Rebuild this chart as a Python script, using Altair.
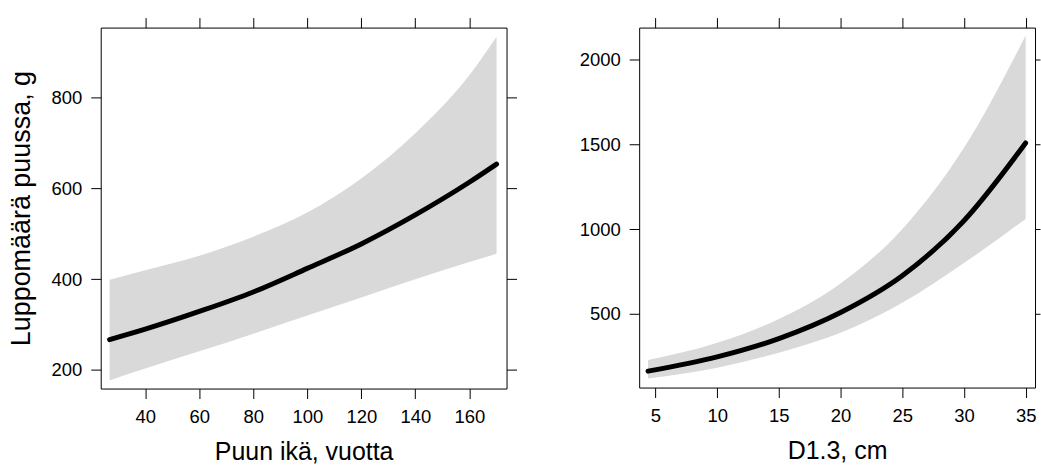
import altair as alt
import pandas as pd

# Left panel: tree age vs. lichen amount
age = [26.8, 40, 60, 80, 100, 120, 140, 160, 170.1]
age_fit = [267, 290, 329, 372, 424, 478, 542, 614, 654]
age_lo = [177, 203, 241, 280, 320, 360, 400, 438, 456]
age_hi = [399, 420, 452, 494, 547, 622, 722, 850, 935]

# Right panel: diameter vs. lichen amount
dbh = [4.4, 10, 15, 20, 25, 30, 35]
dbh_fit = [162, 246, 354, 508, 725, 1050, 1509]
dbh_lo = [119, 182, 271, 388, 565, 800, 1060]
dbh_hi = [227, 329, 470, 680, 1000, 1480, 2143]

age_xticks = [40, 60, 80, 100, 120, 140, 160]
age_yticks = [200, 400, 600, 800]
dbh_xticks = [5, 10, 15, 20, 25, 30, 35]
dbh_yticks = [500, 1000, 1500, 2000]

df_age = pd.DataFrame({"x": age, "fit": age_fit, "lo": age_lo, "hi": age_hi})
df_dbh = pd.DataFrame({"x": dbh, "fit": dbh_fit, "lo": dbh_lo, "hi": dbh_hi})

BAND = "#D9D9D9"


def panel(df, xdom, ydom, xticks, yticks, xtitle, ytitle, w, h, right_tick):
    sx = alt.Scale(domain=xdom, nice=False, zero=False)
    sy = alt.Scale(domain=ydom, nice=False, zero=False)
    if ytitle:
        yaxis = alt.Axis(orient="left", values=yticks, title=ytitle, titlePadding=16,
                         format="d")
    else:
        yaxis = alt.Axis(orient="left", values=yticks, title=None, format="d")
    band = alt.Chart(df).mark_area(color=BAND, interpolate="monotone").encode(
        x=alt.X("x:Q", scale=sx,
                axis=alt.Axis(orient="bottom", values=xticks, title=xtitle,
                              titlePadding=14, format="d")),
        y=alt.Y("lo:Q", scale=sy, axis=yaxis),
        y2="hi:Q",
    )
    line = alt.Chart(df).mark_line(color="black", strokeWidth=5, strokeCap="round",
                                   interpolate="monotone").encode(
        x=alt.X("x:Q", scale=sx,
                axis=alt.Axis(orient="top", values=xticks, labels=False, title=None)),
        y=alt.Y("fit:Q", scale=sy,
                axis=alt.Axis(orient="right", values=yticks, labels=False, title=None,
                              tickSize=right_tick)),
    )
    return alt.layer(band, line).resolve_axis(x="independent", y="independent").properties(
        width=w, height=h)


left = panel(df_age, [23.5, 173.8], [159, 955], age_xticks, age_yticks,
             "Puun ikä, vuotta", "Luppomäärä puussa, g", 407, 362, 10).properties(
    title=alt.TitleParams(" ", fontSize=3, offset=0))
right = panel(df_dbh, [3.68, 35.76], [65, 2190], dbh_xticks, dbh_yticks,
              "D1.3, cm", None, 397, 361, 5)

chart = alt.hconcat(left, right, spacing=61).properties(
    padding={"left": 6, "top": 13, "right": 0, "bottom": 0}
).configure(
    font="Liberation Sans"
).configure_view(
    stroke="black", strokeWidth=1
).configure_axis(
    domain=False, grid=False, ticks=True, tickColor="black", tickSize=10, tickWidth=1,
    labelFontSize=18.5, labelColor="black", labelPadding=9,
    titleFontSize=25, titleFontWeight="normal", titleColor="black",
).configure_axisLeft(
    titleFontSize=27
).configure_axisBottom(
    labelPadding=9
)

chart.save("out.html", embed_options={"renderer": "svg", "actions": False})
